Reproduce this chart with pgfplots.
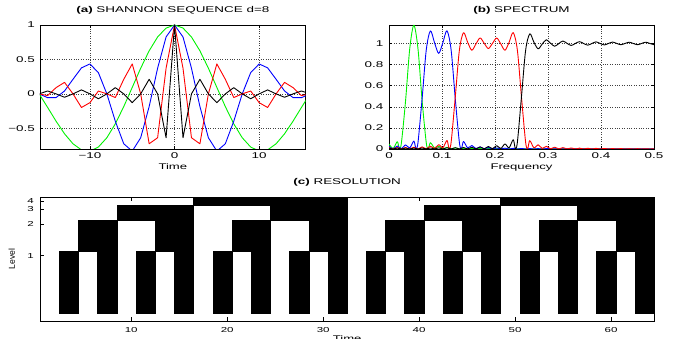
\documentclass[border=0pt]{standalone}
\usepackage{fontspec}
\setmainfont{Liberation Sans}[FakeStretch=1.6]
\newfontfamily\plainsans{Liberation Sans}
\usepackage{pgfplots}
\usepackage{pgfplotstable}
\pgfplotsset{compat=1.18}
\definecolor{mgreen}{rgb}{0,0.95,0}

\pgfplotstableread{
t G B R K
-17 0.1731 0.0486 0.0219 -0.0375
-16 0 0 0 0
-15 -0.1962 -0.0551 -0.0249 0.0424
-14 -0.3964 -0.0533 0.0909 0
-13 -0.5796 0.0425 0.1672 -0.0490
-12 -0.7245 0.2122 0 0
-11 -0.8127 0.3776 -0.1976 0.0579
-10 -0.8307 0.4347 -0.1273 0
-9 -0.7716 0.3084 0.0414 -0.0707
-8 -0.6366 0 0 0
-7 -0.4352 -0.3964 -0.0533 0.0909
-6 -0.1840 -0.7245 0.2122 0
-5 0.0941 -0.8307 0.4347 -0.1273
-4 0.3729 -0.6366 0 0
-3 0.6252 -0.1840 -0.7245 0.2122
-2 0.8261 0.3729 -0.6366 0
-1 0.9554 0.8261 0.3729 -0.6366
0 1 1 1 1
1 0.9554 0.8261 0.3729 -0.6366
2 0.8261 0.3729 -0.6366 0
3 0.6252 -0.1840 -0.7245 0.2122
4 0.3729 -0.6366 0 0
5 0.0941 -0.8307 0.4347 -0.1273
6 -0.1840 -0.7245 0.2122 0
7 -0.4352 -0.3964 -0.0533 0.0909
8 -0.6366 0 0 0
9 -0.7716 0.3084 0.0414 -0.0707
10 -0.8307 0.4347 -0.1273 0
11 -0.8127 0.3776 -0.1976 0.0579
12 -0.7245 0.2122 0 0
13 -0.5796 0.0425 0.1672 -0.0490
14 -0.3964 -0.0533 0.0909 0
15 -0.1962 -0.0551 -0.0249 0.0424
16 0 0 0 0
17 0.1731 0.0486 0.0219 -0.0375
}\seqtable

\pgfplotstableread{
f v
0 0.047
0.0078 0.006
0.0156 0.069
0.0195 0.005
0.0234 0.058
0.0313 0.460
0.0391 0.949
0.0469 1.173
0.0547 0.948
0.0625 0.456
0.0703 0.059
0.0742 0.003
0.0781 0.060
0.0859 0.010
0.0938 0.026
0.1016 0.003
0.1094 0.015
0.1172 0.002
0.125 0.010
0.1328 0.001
0.1406 0.007
0.1484 0.001
0.1563 0.005
0.1641 0.001
0.1719 0.004
0.1797 0.000
0.1875 0.003
0.25 0.002
0.35 0.001
0.5 0.001
}\specG

\pgfplotstableread{
f v
0 0.025
0.0078 0.001
0.0156 0.028
0.0234 0.003
0.0313 0.039
0.0391 0.011
0.0469 0.075
0.0508 0.005
0.0547 0.062
0.0625 0.479
0.0703 0.939
0.0781 1.119
0.0859 1.007
0.0938 0.906
0.1016 1.007
0.1094 1.120
0.1172 0.939
0.125 0.477
0.1328 0.062
0.1367 0.005
0.1406 0.071
0.1484 0.011
0.1563 0.033
0.1641 0.004
0.1719 0.020
0.1797 0.002
0.1875 0.014
0.1953 0.001
0.2031 0.010
0.2109 0.001
0.2188 0.008
0.2266 0.000
0.2344 0.006
0.2422 0.000
0.25 0.005
0.2578 0.000
0.2656 0.004
0.2734 0.000
0.2813 0.0035
0.2891 0.000
0.2969 0.003
0.35 0.001
0.5 0.001
}\specB

\pgfplotstableread{
f v
0 0.013
0.0078 0.0005
0.0156 0.013
0.0234 0.0005
0.0313 0.014
0.0391 0.001
0.0469 0.016
0.0547 0.001
0.0625 0.020
0.0703 0.002
0.0781 0.027
0.0859 0.005
0.0938 0.041
0.1016 0.012
0.1094 0.081
0.1133 0.005
0.1172 0.063
0.125 0.490
0.1328 0.937
0.1406 1.102
0.1484 1.011
0.1563 0.936
0.1641 0.996
0.1719 1.052
0.1797 1.001
0.1875 0.952
0.1953 1.001
0.2031 1.052
0.2109 0.996
0.2188 0.936
0.2266 1.011
0.2344 1.103
0.2422 0.937
0.25 0.489
0.2578 0.063
0.2617 0.005
0.2656 0.079
0.2734 0.012
0.2813 0.040
0.2891 0.005
0.2969 0.025
0.3047 0.002
0.3125 0.017
0.3203 0.001
0.3281 0.013
0.3359 0.001
0.3438 0.010
0.3516 0
0.3594 0.008
0.3672 0
0.375 0.007
0.3828 0
0.3906 0.006
0.3984 0
0.4063 0.005
0.4141 0
0.4219 0.004
0.4297 0
0.4375 0.004
0.4453 0
0.4531 0.003
0.4609 0
0.4688 0.003
0.4766 0
0.4844 0.0025
0.4922 0
0.5 0.0023
}\specR

\pgfplotstableread{
f v
0 0.008
0.0078 0.0005
0.0156 0.0085
0.0234 0.0005
0.0313 0.0086
0.0391 0.0005
0.0469 0.0089
0.0547 0.0005
0.0625 0.0093
0.0703 0.0005
0.0781 0.0098
0.0859 0.0005
0.0938 0.0105
0.1016 0.0005
0.1094 0.0113
0.1172 0.0005
0.125 0.0125
0.1328 0.0005
0.1406 0.0141
0.1484 0.0005
0.1563 0.0164
0.1641 0.001
0.1719 0.0196
0.1797 0.0015
0.1875 0.0241
0.1953 0.0025
0.2031 0.032
0.2109 0.0047
0.2188 0.0474
0.2266 0.012
0.2344 0.0881
0.2383 0.005
0.2422 0.0637
0.25 0.498
0.2578 0.936
0.2656 1.091
0.2734 1.012
0.2813 0.949
0.2891 0.995
0.2969 1.035
0.3047 1.003
0.3125 0.973
0.3203 0.999
0.3281 1.023
0.3359 1.001
0.3438 0.981
0.3516 1.000
0.3594 1.017
0.3672 1.000
0.375 0.984
0.3828 1.000
0.3906 1.015
0.3984 1.000
0.4063 0.986
0.4141 1.000
0.4219 1.013
0.4297 1.000
0.4375 0.988
0.4453 1.000
0.4531 1.012
0.4609 1.000
0.4688 0.988
0.4766 1.000
0.4844 1.012
0.4922 1.000
0.5 0.988
}\specK

\pgfplotsset{
  mat/.style={
    scale only axis,
    axis line style={line width=0.7pt},
    tick style={line width=0.5pt, black},
    major tick length=3pt,
    tick align=inside,
    grid style={dotted, line width=0.5pt, black!75},
    every tick label/.append style={font=\fontsize{8.4}{10}\selectfont, inner sep=0pt},
    label style={font=\fontsize{8.2}{10}\selectfont},
    xlabel style={at={(axis description cs:0.5,0)}, anchor=base, yshift=-21pt},
    title style={font=\fontsize{8.4}{10}\selectfont, at={(axis description cs:0.5,1)}, anchor=base, yshift=6.3pt},
  },
  crv/.style={line width=0.9pt, line join=round},
}

\newcommand{\blk}[4]{\addplot[fill=black, draw=black, line width=0.5pt] coordinates {(#1,#3) (#2,#3) (#2,#4) (#1,#4)} -- cycle;}

\begin{document}
\begin{tikzpicture}
\useasboundingbox (0,0) rectangle (674pt,339pt);

% (a)
\begin{axis}[mat, at={(40pt,190pt)}, anchor=south west, width=265.7pt, height=124pt,
  xmin=-15.9, xmax=15.5, ymin=-0.8, ymax=1,
  xticklabel style={anchor=base, yshift=-10pt},
  yticklabel style={anchor=east, xshift=-5pt},
  xtick={-10,0,10}, xticklabels={−10,0,10},
  ytick={-0.5,0,0.5,1}, yticklabels={−0.5,0,0.5,1},
  grid=major,
  title={\textbf{(a)} SHANNON SEQUENCE d=8}, xlabel={Time}]
\addplot[crv, mgreen] table[x=t, y=G] {\seqtable};
\addplot[crv, blue] table[x=t, y=B] {\seqtable};
\addplot[crv, red] table[x=t, y=R] {\seqtable};
\addplot[crv, black] table[x=t, y=K] {\seqtable};
\end{axis}

% (b)
\begin{axis}[mat, at={(389pt,190pt)}, anchor=south west, width=265pt, height=124pt,
  xmin=0, xmax=0.5, ymin=0, ymax=1.175,
  xticklabel style={anchor=base, yshift=-10pt},
  yticklabel style={anchor=east, xshift=-5.5pt},
  xtick={0,0.1,0.2,0.3,0.4,0.5}, xticklabels={0,0.1,0.2,0.3,0.4,0.5},
  ytick={0,0.2,0.4,0.6,0.8,1}, yticklabels={0,0.2,0.4,0.6,0.8,1},
  grid=major,
  title={\textbf{(b)} SPECTRUM}, xlabel={Frequency}]
\addplot[crv, mgreen, smooth] table[x=f, y=v] {\specG};
\addplot[crv, blue, smooth] table[x=f, y=v] {\specB};
\addplot[crv, red, smooth] table[x=f, y=v] {\specR};
\addplot[crv, black, smooth] table[x=f, y=v] {\specK};
\end{axis}

% (c)
\begin{axis}[mat, at={(40pt,18pt)}, anchor=south west, width=614.3pt, height=123.7pt,
  axis on top,
  xmin=0.5, xmax=64.5, ymin=0, ymax=123.7,
  major tick length=3.5pt,
  xtick={10,20,30,40,50,60}, xticklabels={10,20,30,40,50,60},
  ytick={65.3,97,112,120}, yticklabels={1,2,3,4},
  every tick label/.append style={font=\fontsize{7.2}{8}\selectfont},
  xticklabel style={anchor=base, yshift=-12pt},
  yticklabel style={anchor=east, xshift=-6pt},
  title={\textbf{(c)} RESOLUTION}, xlabel={Time},
  xlabel style={yshift=0.5pt},
  ylabel={\plainsans\fontsize{8.6}{10}\selectfont Level},
  ylabel style={at={(axis description cs:-0.046,0.5)}, anchor=center}]
% level 1
\blk{2.5}{4.5}{7.7}{69.3}
\blk{6.5}{8.5}{7.7}{69.3}
\blk{10.5}{12.5}{7.7}{69.3}
\blk{14.5}{16.5}{7.7}{69.3}
\blk{18.5}{20.5}{7.7}{69.3}
\blk{22.5}{24.5}{7.7}{69.3}
\blk{26.5}{28.5}{7.7}{69.3}
\blk{30.5}{32.5}{7.7}{69.3}
\blk{34.5}{36.5}{7.7}{69.3}
\blk{38.5}{40.5}{7.7}{69.3}
\blk{42.5}{44.5}{7.7}{69.3}
\blk{46.5}{48.5}{7.7}{69.3}
\blk{50.5}{52.5}{7.7}{69.3}
\blk{54.5}{56.5}{7.7}{69.3}
\blk{58.5}{60.5}{7.7}{69.3}
\blk{62.5}{64.5}{7.7}{69.3}
% level 2
\blk{4.5}{8.5}{69.3}{101}
\blk{12.5}{16.5}{69.3}{101}
\blk{20.5}{24.5}{69.3}{101}
\blk{28.5}{32.5}{69.3}{101}
\blk{36.5}{40.5}{69.3}{101}
\blk{44.5}{48.5}{69.3}{101}
\blk{52.5}{56.5}{69.3}{101}
\blk{60.5}{64.5}{69.3}{101}
% level 3
\blk{8.5}{16.5}{101}{116}
\blk{24.5}{32.5}{101}{116}
\blk{40.5}{48.5}{101}{116}
\blk{56.5}{64.5}{101}{116}
% level 4
\blk{16.5}{32.5}{116}{123.7}
\blk{48.5}{64.5}{116}{123.7}
\end{axis}
\end{tikzpicture}
\end{document}
